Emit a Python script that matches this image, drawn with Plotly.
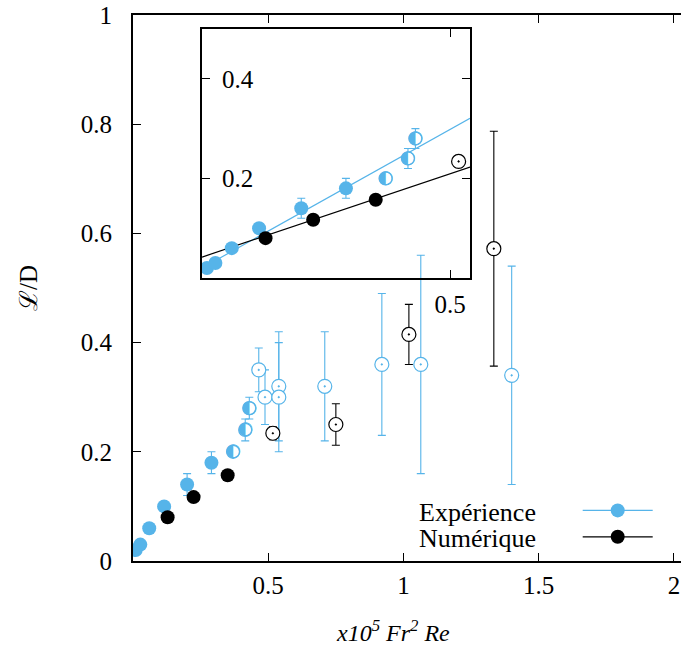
import plotly.graph_objects as go

BLUE = "#56b4e9"
BLACK = "#000000"
FONT = "Liberation Serif"

# ---- Expérience (blue) ----
exp_full_x = [0.010, 0.027, 0.060, 0.115, 0.200, 0.290]
exp_full_y = [0.020, 0.030, 0.060, 0.100, 0.140, 0.180]
exp_full_err = [0, 0, 0, 0, 0.02, 0.02]

exp_half_x = [0.370, 0.415, 0.430]
exp_half_y = [0.200, 0.240, 0.280]
exp_half_err = [0, 0.02, 0.02]

exp_open_x = [0.465, 0.488, 0.539, 0.539, 0.709, 0.920, 1.064, 1.400]
exp_open_y = [0.350, 0.300, 0.320, 0.300, 0.320, 0.360, 0.360, 0.340]
exp_open_err = [0.04, 0.05, 0.10, 0.10, 0.10, 0.13, 0.20, 0.20]

# ---- Numérique (black) ----
num_full_x = [0.128, 0.224, 0.350]
num_full_y = [0.080, 0.117, 0.157]
num_open_x = [0.517, 0.750, 1.020, 1.334]
num_open_y = [0.234, 0.250, 0.415, 0.572]
num_open_err = [0.012, 0.038, 0.055, 0.215]

# linear fits shown in the inset (slope, intercept)
fit_exp = (0.557, 0.020)
fit_num = (0.335, 0.042)

# axes
main_xrange = [0, 2.026]
main_yrange = [0, 1]
main_xticks = [0.5, 1, 1.5, 2]
main_xtext = ["0.5", "1", "1.5", "2"]
main_yticks = [0, 0.2, 0.4, 0.6, 0.8, 1]
main_ytext = ["0", "0.2", "0.4", "0.6", "0.8", "1"]
inset_xrange = [0, 0.54]
inset_yrange = [0, 0.5]
inset_xticks = [0.5]
inset_yticks = [0.2, 0.4]

MS = 14

fig = go.Figure()


def err(arr, color):
    return dict(type="data", array=arr, color=color, thickness=1.1, width=4)


def add_series(xa, ya, inset=False):
    if inset:
        fx = inset_xrange
        fig.add_trace(go.Scatter(x=fx, y=[fit_exp[0] * v + fit_exp[1] for v in fx],
                                 mode="lines", line=dict(color=BLUE, width=1.2),
                                 xaxis=xa, yaxis=ya, showlegend=False, hoverinfo="skip"))
        fig.add_trace(go.Scatter(x=fx, y=[fit_num[0] * v + fit_num[1] for v in fx],
                                 mode="lines", line=dict(color=BLACK, width=1.2),
                                 xaxis=xa, yaxis=ya, showlegend=False, hoverinfo="skip"))
    else:
        fig.add_trace(go.Scatter(x=exp_open_x, y=exp_open_y, mode="markers",
                                 error_y=err(exp_open_err, BLUE),
                                 marker=dict(symbol="circle-dot", size=MS, color="white",
                                             line=dict(color=BLUE, width=1.2)),
                                 xaxis=xa, yaxis=ya, showlegend=False))
    ox = [v for v in num_open_x if v <= inset_xrange[1]] if inset else num_open_x
    n = len(ox)
    fig.add_trace(go.Scatter(x=ox, y=num_open_y[:n], mode="markers",
                             error_y=err(num_open_err[:n], BLACK),
                             marker=dict(symbol="circle-dot", size=MS, color="white",
                                         line=dict(color=BLACK, width=1.2)),
                             xaxis=xa, yaxis=ya, showlegend=False))
    fig.add_trace(go.Scatter(x=exp_full_x, y=exp_full_y, mode="markers",
                             error_y=err(exp_full_err, BLUE),
                             marker=dict(symbol="circle", size=MS, color=BLUE),
                             xaxis=xa, yaxis=ya, showlegend=False))
    fig.add_trace(go.Scatter(x=exp_half_x, y=exp_half_y, mode="markers+text",
                             error_y=err(exp_half_err, BLUE),
                             marker=dict(symbol="circle", size=MS - 1, color="white",
                                         line=dict(color=BLUE, width=1.2)),
                             text=["◐"] * len(exp_half_x), textposition="middle center",
                             textfont=dict(family="DejaVu Sans", size=18, color=BLUE),
                             xaxis=xa, yaxis=ya, showlegend=False))
    fig.add_trace(go.Scatter(x=num_full_x, y=num_full_y, mode="markers",
                             marker=dict(symbol="circle", size=MS, color=BLACK),
                             xaxis=xa, yaxis=ya, showlegend=False))


add_series("x", "y")
add_series("x2", "y2", inset=True)

# legend samples
fig.add_trace(go.Scatter(x=[None], y=[None], mode="lines+markers", name=" ",
                         line=dict(color=BLUE, width=1.2),
                         marker=dict(size=MS, color=BLUE), showlegend=True))
fig.add_trace(go.Scatter(x=[None], y=[None], mode="lines+markers", name=" ",
                         line=dict(color=BLACK, width=1.2),
                         marker=dict(size=MS, color=BLACK), showlegend=True))

axis_common = dict(showgrid=False, zeroline=False, showline=True, linecolor="black",
                   linewidth=2, ticks="inside", ticklen=8, tickwidth=1, tickcolor="black",
                   automargin=False,
                   tickfont=dict(family=FONT, size=25, color="black"))

fig.update_layout(
    width=681, height=648,
    margin=dict(l=133, r=0, t=15, b=87),
    paper_bgcolor="white", plot_bgcolor="rgba(0,0,0,0)",
    font=dict(family=FONT, color="black"),
    xaxis=dict(axis_common, range=main_xrange, tickvals=main_xticks, ticktext=main_xtext,
               mirror="ticks", domain=[0, 1], ticklabelstandoff=1),
    yaxis=dict(axis_common, range=main_yrange, tickvals=main_yticks, ticktext=main_ytext,
               mirror=False, domain=[0, 1], ticklabelstandoff=14),
    xaxis2=dict(axis_common, range=inset_xrange, tickvals=inset_xticks, ticktext=["0.5"],
                mirror="ticks", domain=[0.1259, 0.6150], anchor="y2", ticklabelstandoff=3),
    yaxis2=dict(axis_common, range=inset_yrange, tickvals=inset_yticks, ticktext=["0.2", "0.4"],
                mirror="ticks", domain=[0.5183, 0.9744], anchor="x2",
                ticklabelposition="inside", ticklabelstandoff=14),
    showlegend=True,
    legend=dict(x=0.8115, y=0.126, xanchor="left", yanchor="top", bgcolor="rgba(0,0,0,0)",
                font=dict(family=FONT, size=18), itemwidth=70, tracegroupgap=0),
    annotations=[
        dict(text="<i>x10<sup>5</sup> Fr<sup>2</sup> Re</i>", xref="paper", yref="paper",
             x=0.474, y=-0.128, xanchor="center", yanchor="middle", showarrow=False,
             font=dict(family=FONT, size=24)),
        dict(text="ℒ/D", xref="paper", yref="paper", x=-0.1916, y=0.5, textangle=-90,
             xanchor="center", yanchor="middle", showarrow=False,
             font=dict(family=FONT, size=25)),
        dict(text="Expérience", xref="paper", yref="paper", x=0.739, y=0.0897,
             xanchor="right", yanchor="middle", showarrow=False, font=dict(family=FONT, size=26)),
        dict(text="Numérique", xref="paper", yref="paper", x=0.739, y=0.0421,
             xanchor="right", yanchor="middle", showarrow=False, font=dict(family=FONT, size=26)),
    ],
)

# remove the browser's default page margin so the figure fills the window exactly
fig.write_html("out.html", config={"displayModeBar": False},
               post_script="document.body.style.margin='0';")
